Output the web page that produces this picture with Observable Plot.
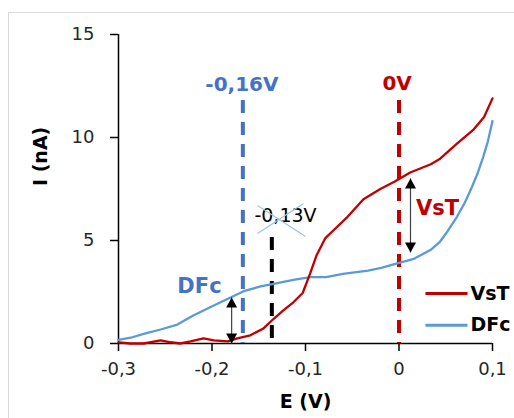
<!DOCTYPE html>
<html>
<head>
<meta charset="utf-8">
<script src="https://cdn.jsdelivr.net/npm/d3@7"></script>
<script src="https://cdn.jsdelivr.net/npm/@observablehq/plot@0.6"></script>
<style>
  html, body { margin: 0; padding: 0; background: #fff; overflow: hidden; }
  #wrap { position: relative; width: 514px; height: 418px; overflow: hidden; }
  #frame { position: absolute; left: 8px; top: 12px; width: 600px; height: 600px; border: 1.5px solid #d9d9d9; box-sizing: border-box; }
  #chart { position: absolute; left: 0; top: 0; }
</style>
</head>
<body>
<div id="wrap"><div id="frame"></div><div id="chart"></div></div>
<script>
// ---- data ----
const vstE = [-0.300, -0.287, -0.273, -0.255, -0.244, -0.234, -0.223, -0.209, -0.198, -0.183, -0.173, -0.159, -0.145, -0.134, -0.124, -0.113, -0.103, -0.095, -0.088, -0.079, -0.070, -0.055, -0.038, -0.020, -0.005, 0.012, 0.034, 0.044, 0.062, 0.080, 0.091, 0.100];
const vstI = [0.05, 0.0, 0.0, 0.15, 0.06, 0.0, 0.1, 0.25, 0.15, 0.1, 0.25, 0.4, 0.73, 1.2, 1.6, 2.0, 2.45, 3.4, 4.3, 5.1, 5.5, 6.15, 7.0, 7.5, 7.85, 8.3, 8.7, 8.97, 9.7, 10.4, 11.0, 11.9];
const dfcE = [-0.300, -0.287, -0.273, -0.255, -0.237, -0.220, -0.202, -0.183, -0.166, -0.148, -0.130, -0.113, -0.095, -0.078, -0.060, -0.033, -0.019, -0.001, 0.016, 0.034, 0.044, 0.052, 0.062, 0.070, 0.078, 0.084, 0.090, 0.095, 0.100];
const dfcI = [0.18, 0.28, 0.47, 0.68, 0.92, 1.36, 1.76, 2.17, 2.54, 2.77, 2.93, 3.09, 3.22, 3.22, 3.38, 3.54, 3.67, 3.9, 4.11, 4.55, 4.95, 5.45, 6.15, 6.8, 7.6, 8.25, 9.05, 9.8, 10.8];
const seriesNames = ["VsT", "DFc"];
const xTicks = [-0.3, -0.2, -0.1, 0, 0.1];
const yTicks = [0, 5, 10, 15];
// reference potentials (dashed lines): label, E, top of line, label position
const refLabels = ["-0,16V", "0V", "-0,13V"];
const refE = [-0.167, 0, -0.136];
const refTop = [11.8, 11.8, 5.15];
const refLabelE = [-0.168, -0.002, -0.1214];
const refLabelI = [12.55, 12.6, 6.2];
// double arrows: E, lower I, upper I
const arrowE = [-0.179, 0.0123];
const arrowLow = [0.0, 4.42];
const arrowHigh = [2.23, 8.01];
// curve labels
const curveLabelE = [0.0412, -0.2134];
const curveLabelI = [6.55, 2.79];
// crossing-out strokes over "-0,13V"
const crossE1 = [-0.1513, -0.1513];
const crossI1 = [6.7, 5.34];
const crossE2 = [-0.1, -0.1021];
const crossI2 = [5.19, 6.8];
// legend placement (data units)
const legendE1 = 0.0283, legendE2 = 0.0733, legendTextE = 0.0765;
const legendI = [2.43, 0.88];

// ---- build ----
const RED = "#C00000", BLUE = "#5B9BD5", DBLUE = "#4472C4", LBLUE = "#9DC3E6";
const vst = vstE.map((e, i) => ({E: e, I: vstI[i]}));
const dfc = dfcE.map((e, i) => ({E: e, I: dfcI[i]}));
const refs = refE.map((e, i) => ({E: e, top: refTop[i], label: refLabels[i], lx: refLabelE[i], ly: refLabelI[i]}));
const refColors = [DBLUE, RED, "#000"];
const arrows = arrowE.map((e, i) => ({E: e, lo: arrowLow[i], hi: arrowHigh[i]}));
const curveLabels = seriesNames.map((n, i) => ({name: n, E: curveLabelE[i], I: curveLabelI[i]}));
const crosses = crossE1.map((e, i) => ({x1: e, y1: crossI1[i], x2: crossE2[i], y2: crossI2[i]}));
const legend = seriesNames.map((n, i) => ({name: n, I: legendI[i]}));
const fmt = d => String(d).replace(".", ",");

const tipUp = {draw(ctx) { ctx.moveTo(0, 0); ctx.lineTo(-5.5, 10); ctx.lineTo(5.5, 10); ctx.closePath(); }};
const tipDown = {draw(ctx) { ctx.moveTo(0, 0); ctx.lineTo(-5.5, -10); ctx.lineTo(5.5, -10); ctx.closePath(); }};

const plot = Plot.plot({
  width: 514,
  height: 418,
  marginLeft: 118,
  marginRight: 22,
  marginTop: 34,
  marginBottom: 75,
  x: {domain: [-0.3, 0.1]},
  y: {domain: [0, 15]},
  style: {fontFamily: "DejaVu Sans", fontSize: "18px", background: "transparent", color: "#000"},
  marks: [
    Plot.axisX({ticks: xTicks, tickSize: 8, tickPadding: 11, tickFormat: fmt, label: null, strokeWidth: 1.5, fill: "#262626"}),
    Plot.axisY({ticks: yTicks, tickSize: 8, tickPadding: 16, tickFormat: fmt, label: null, strokeWidth: 1.5, fill: "#262626"}),
    Plot.ruleY([0], {stroke: "#000", strokeWidth: 1.5}),
    Plot.ruleX([-0.3], {stroke: "#000", strokeWidth: 1.5}),
    Plot.text(["I (nA)"], {frameAnchor: "left", dx: -78, dy: -3, rotate: -90, fontWeight: "bold", fontSize: 19}),
    Plot.text(["E (V)"], {frameAnchor: "bottom", dy: 64, fontWeight: "bold", fontSize: 19}),
    // dashed reference lines
    ...refs.map((r, i) => Plot.ruleX([r], {x: "E", y1: "top", y2: 0, stroke: refColors[i], strokeWidth: 4, strokeDasharray: "13,9"})),
    // curves
    Plot.line(dfc, {x: "E", y: "I", stroke: BLUE, strokeWidth: 2.3}),
    Plot.line(vst, {x: "E", y: "I", stroke: RED, strokeWidth: 2.3}),
    // reference labels
    ...refs.map((r, i) => Plot.text([r], {x: "lx", y: "ly", text: "label", fill: refColors[i], fontWeight: i < 2 ? "bold" : "normal", fontSize: i < 2 ? 20 : 19})),
    Plot.link(crosses, {x1: "x1", y1: "y1", x2: "x2", y2: "y2", stroke: LBLUE, strokeWidth: 1.2}),
    // double arrows
    Plot.link(arrows, {x1: "E", x2: "E", y1: "lo", y2: "hi", stroke: "#404040", strokeWidth: 1.2}),
    Plot.dot(arrows, {x: "E", y: "hi", symbol: tipUp, fill: "#000", stroke: null, r: 5}),
    Plot.dot(arrows, {x: "E", y: "lo", symbol: tipDown, fill: "#000", stroke: null, r: 5}),
    // curve labels
    Plot.text(curveLabels, {x: "E", y: "I", text: "name", fill: (d) => d.name === "VsT" ? RED : DBLUE, fontWeight: "bold", fontSize: 21}),
    // legend
    Plot.link(legend, {x1: () => legendE1, x2: () => legendE2, y1: "I", y2: "I", stroke: (d) => d.name === "VsT" ? RED : BLUE, strokeWidth: 3}),
    Plot.text(legend, {x: () => legendTextE, y: "I", text: "name", textAnchor: "start", fontWeight: "bold", fontSize: 19, fill: "#000"})
  ]
});
document.getElementById("chart").appendChild(plot);
</script>
</body>
</html>
